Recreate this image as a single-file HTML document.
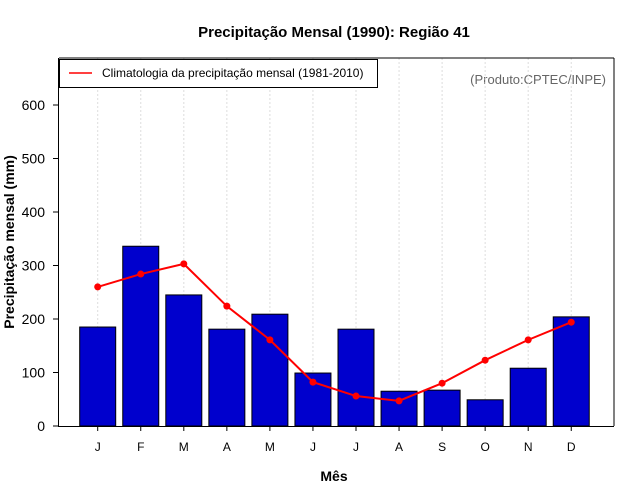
<!DOCTYPE html>
<html><head><meta charset="utf-8"><style>body{margin:0;background:#fff}svg{display:block;font-family:"Liberation Sans",sans-serif}</style></head>
<body>
<svg id="chart" width="640" height="500">
<text x="334" y="37" text-anchor="middle" font-size="15" font-weight="bold">Precipitação Mensal (1990): Região 41</text>
<text x="334" y="481" text-anchor="middle" font-size="14" font-weight="bold">Mês</text>
<text transform="translate(14,242) rotate(-90)" text-anchor="middle" font-size="14" font-weight="bold">Precipitação mensal (mm)</text>
<text x="606" y="84" text-anchor="end" font-size="13" fill="#666">(Produto:CPTEC/INPE)</text>
<g id="grid"></g><g id="bars"></g><g id="line"></g><g id="axes"></g>
<line x1="59" y1="58" x2="614" y2="58" stroke="#000"/>
<line x1="614" y1="58" x2="614" y2="426" stroke="#000"/>
<g>
<rect x="59.5" y="59.5" width="318" height="28" fill="#fff" stroke="#000"/>
<line x1="69" y1="73" x2="92" y2="73" stroke="#f00" stroke-width="1.5"/>
<text x="102" y="77" font-size="12">Climatologia da precipitação mensal (1981-2010)</text>
</g>
</svg>
<script>
const months=["J","F","M","A","M","J","J","A","S","O","N","D"];
const precip1990=[185,336,245,181,209,99,181,65,67,49,108,204];
const climatology=[260,284,303,224,161,82,56,47,80,123,161,194];
const yTicks=[0,100,200,300,400,500,600];
const NS="http://www.w3.org/2000/svg";
const x0=97.7,dx=43.05,bw=36;
const xs=i=>x0+i*dx;
const ys=v=>426-v*0.535;
function mk(tag,attrs,parent,txt){const e=document.createElementNS(NS,tag);for(const k in attrs)e.setAttribute(k,attrs[k]);if(txt!==undefined)e.textContent=txt;document.getElementById(parent).appendChild(e);return e;}
months.forEach((m,i)=>{
 const g=mk("line",{x1:xs(i),x2:xs(i),y1:58,y2:426,stroke:"#ddd","stroke-dasharray":"2,2"},"grid");
 
 
 const v=precip1990[i];
 const b=mk("rect",{x:xs(i)-bw/2,y:ys(v),width:bw,height:426-ys(v),fill:"#0000cd",stroke:"#000","stroke-width":1},"bars");
 
 
 const t=mk("line",{x1:xs(i),x2:xs(i),y1:426,y2:431,stroke:"#000"},"axes");
 
 
 const l=mk("text",{x:xs(i),y:451,"text-anchor":"middle","font-size":12},"axes",m);
 
 
});
const pts=climatology.map((v,i)=>xs(i)+","+ys(v)).join(" ");
const pl=mk("polyline",{points:pts,fill:"none",stroke:"#f00","stroke-width":2},"line");


climatology.forEach((v,i)=>{
 const c=mk("circle",{cx:xs(i),cy:ys(v),r:3.5,fill:"#f00"},"line");
 
 
});
const ax=mk("line",{x1:58.5,x2:58.5,y1:58,y2:426,stroke:"#000"},"axes");


const bx=mk("line",{x1:58,x2:614,y1:426.5,y2:426.5,stroke:"#000"},"axes");


yTicks.forEach(v=>{
 const t=mk("line",{x1:53,x2:58,y1:ys(v),y2:ys(v),stroke:"#000"},"axes");
 
 
 const l=mk("text",{x:45,y:ys(v)+5,"text-anchor":"end","font-size":14},"axes",v);
 
 
});
</script>
</body></html>
